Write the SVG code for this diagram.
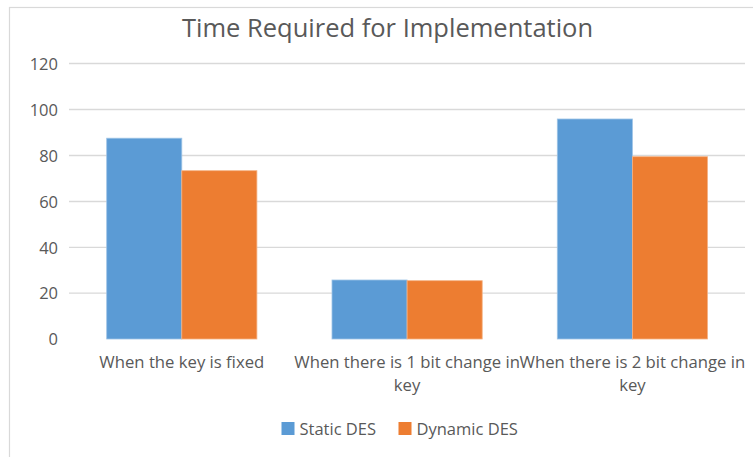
<svg xmlns="http://www.w3.org/2000/svg" width="753" height="457" viewBox="0 0 753 457">
<style>
text{font-family:"Open Sans","Noto Sans","Liberation Sans",sans-serif;fill:#595959}
.ax{font-size:16.5px;text-anchor:end}
.cat{font-size:16.7px;text-anchor:middle}
.leg{font-size:16.5px}
.grid{stroke:#D9D9D9;stroke-width:1.3}
.s{fill:#5B9BD5;stroke:#9DC3E6;stroke-width:0.8}
.d{fill:#ED7D31;stroke:#F4B183;stroke-width:0.8}
</style>
<rect x="0" y="0" width="753" height="457" fill="#fff"/>
<rect x="9.5" y="7.5" width="760" height="470" fill="#fff" stroke="#D9D9D9" stroke-width="1.2"/>
<g id="title"><text x="387.5" y="36.5" style="font-size:25.5px;text-anchor:middle">Time Required for Implementation</text></g>
<g id="gridlines">
<line class="grid" x1="69" y1="63.5" x2="745" y2="63.5"/>
<line class="grid" x1="69" y1="109.5" x2="745" y2="109.5"/>
<line class="grid" x1="69" y1="155.5" x2="745" y2="155.5"/>
<line class="grid" x1="69" y1="201.5" x2="745" y2="201.5"/>
<line class="grid" x1="69" y1="247.3" x2="745" y2="247.3"/>
<line class="grid" x1="69" y1="293.2" x2="745" y2="293.2"/>
</g>
<g id="y-axis">
<text class="ax" x="58" y="69.5">120</text>
<text class="ax" x="58" y="115.5">100</text>
<text class="ax" x="58" y="161.5">80</text>
<text class="ax" x="58" y="207.5">60</text>
<text class="ax" x="58" y="253.5">40</text>
<text class="ax" x="58" y="299">20</text>
<text class="ax" x="58" y="345">0</text>
</g>
<g id="bars-static">
<rect class="s" x="106.7" y="138.2" width="75.1" height="200.8"/>
<rect class="s" x="332" y="280" width="75.1" height="59"/>
<rect class="s" x="557.3" y="119" width="75.1" height="220"/>
</g>
<g id="bars-dynamic">
<rect class="d" x="181.8" y="170.7" width="75.1" height="168.3"/>
<rect class="d" x="407.1" y="280.7" width="75.1" height="58.3"/>
<rect class="d" x="632.4" y="156.7" width="75.1" height="182.3"/>
</g>
<g id="x-axis">
<text class="cat" x="181.8" y="368">When the key is fixed</text>
<text class="cat" x="407.1" y="368">When there is 1 bit change in</text>
<text class="cat" x="407.1" y="391">key</text>
<text class="cat" x="632.4" y="368">When there is 2 bit change in</text>
<text class="cat" x="632.4" y="391">key</text>
</g>
<g id="legend">
<rect x="281.5" y="422" width="13" height="13" fill="#5B9BD5"/>
<text class="leg" x="299.5" y="435">Static DES</text>
<rect x="398.5" y="422" width="13" height="13" fill="#ED7D31"/>
<text class="leg" x="416.5" y="435">Dynamic DES</text>
</g>
</svg>
